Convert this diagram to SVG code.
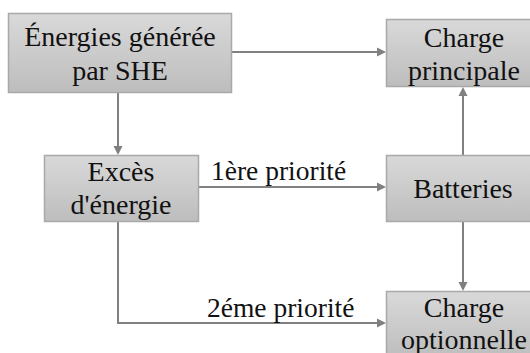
<svg xmlns="http://www.w3.org/2000/svg" width="530" height="353" viewBox="0 0 530 353">
<defs>
<linearGradient id="g" x1="0" y1="0" x2="0" y2="1">
<stop offset="0" stop-color="#d9d9d9"/>
<stop offset="1" stop-color="#bdbdbd"/>
</linearGradient>
</defs>
<style>
.box{fill:url(#g);stroke:#a9a9a9;stroke-width:1.5}
.c{fill:none;stroke:#808080;stroke-width:2}
.h{fill:#808080}
</style>
<rect width="530" height="353" fill="#fff"/>
<g id="connectors">
<line class="c" x1="232" y1="52" x2="380" y2="52"/>
<path class="h" d="M386,52 L377,47.5 L377,56.5 z"/>
<line class="c" x1="118" y1="93" x2="118" y2="149"/>
<path class="h" d="M118,155 L113.5,146 L122.5,146 z"/>
<line class="c" x1="199" y1="187" x2="380" y2="187"/>
<path class="h" d="M386,187 L377,182.5 L377,191.5 z"/>
<polyline class="c" points="118,222 118,323 380,323"/>
<path class="h" d="M386,323 L377,318.5 L377,327.5 z"/>
<line class="c" x1="463" y1="155" x2="463" y2="93"/>
<path class="h" d="M463,87 L458.5,96 L467.5,96 z"/>
<line class="c" x1="463" y1="222" x2="463" y2="285"/>
<path class="h" d="M463,291 L458.5,282 L467.5,282 z"/>
<text font-family="Liberation Serif" font-size="27.5" fill="#111" x="211" y="180">1ère priorité</text>
<text font-family="Liberation Serif" font-size="27.5" fill="#111" x="207" y="317">2éme priorité</text>
</g>
<g id="energies">
<rect class="box" x="8.5" y="13.5" width="223" height="79"/>
<text font-family="Liberation Serif" font-size="28" fill="#111" text-anchor="middle" x="120" y="46">Énergies générée</text>
<text font-family="Liberation Serif" font-size="28" fill="#111" text-anchor="middle" x="120" y="80">par SHE</text>
</g>
<g id="charge-principale">
<rect class="box" x="386.5" y="19.5" width="156" height="67"/>
<text font-family="Liberation Serif" font-size="28" fill="#111" text-anchor="middle" x="464" y="47">Charge</text>
<text font-family="Liberation Serif" font-size="28" fill="#111" text-anchor="middle" x="464" y="80">principale</text>
</g>
<g id="exces">
<rect class="box" x="44.5" y="155.5" width="154" height="66"/>
<text font-family="Liberation Serif" font-size="28" fill="#111" text-anchor="middle" x="121" y="181">Excès</text>
<text font-family="Liberation Serif" font-size="28" fill="#111" text-anchor="middle" x="121" y="214">d'énergie</text>
</g>
<g id="batteries">
<rect class="box" x="386.5" y="155.5" width="156" height="66"/>
<text font-family="Liberation Serif" font-size="28" fill="#111" text-anchor="middle" x="463" y="198">Batteries</text>
</g>
<g id="charge-optionnelle">
<rect class="box" x="386.5" y="291.5" width="156" height="67"/>
<text font-family="Liberation Serif" font-size="28" fill="#111" text-anchor="middle" x="464" y="317">Charge</text>
<text font-family="Liberation Serif" font-size="28" fill="#111" text-anchor="middle" x="464" y="349">optionnelle</text>
</g>
</svg>
